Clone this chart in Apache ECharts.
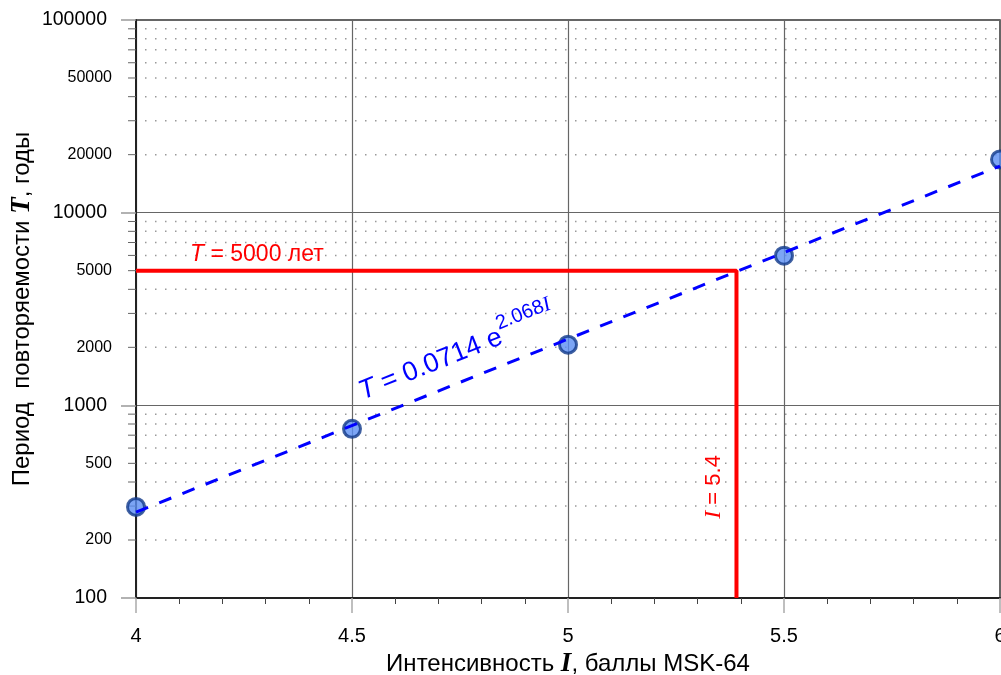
<!DOCTYPE html>
<html>
<head>
<meta charset="utf-8">
<script src="https://cdn.jsdelivr.net/npm/echarts@6/dist/echarts.min.js"></script>
<style>html,body{margin:0;padding:0;background:#fff}#c{width:1001px;height:675px}</style>
</head>
<body>
<div id="c"></div>
<script>
// ---- data ----
const xMin = 4, xMax = 6;
const yMin = 100, yMax = 100000;
const xTickLabels = [4, 4.5, 5, 5.5, 6];
const yTickLabels = [100, 200, 500, 1000, 2000, 5000, 10000, 20000, 50000, 100000];
const yMajorLabels = [100, 1000, 10000, 100000];
const yMinorLines = [200,300,400,500,600,700,800,900,2000,3000,4000,5000,6000,7000,8000,9000,20000,30000,40000,50000,60000,70000,80000,90000];
const pointsI = [4, 4.5, 5, 5.5, 6];
const pointsT = [297, 755, 2065, 5980, 18900];
const fitI = [4, 6];
const fitT = [279, 17460];
const targetT = 5000;
const targetI = 5.39;
const eqAnchor = [4.53, 1000];
const tLabelAnchor = [4.125, 6050];
const iLabelAnchor = [5.338, 377];

const SANS = '"Liberation Sans", Arial, sans-serif';
const SERIF = '"Liberation Serif", "Times New Roman", serif';

const chart = echarts.init(document.getElementById('c'));

const option = {
  animation: false,
  grid: { left: 136, right: 1, top: 20, bottom: 77, show: true, borderColor: '#333', borderWidth: 1.5,
    containLabel: false, outerBoundsMode: 'none' },
  xAxis: {
    type: 'value', min: xMin, max: xMax, interval: 0.5,
    axisLine: { show: true, lineStyle: { color: '#222', width: 2 } },
    axisTick: { show: true, length: 15, lineStyle: { color: '#aaa', width: 1.5 } },
    minorTick: { show: true, splitNumber: 5, length: 6, lineStyle: { color: '#444', width: 1 } },
    axisLabel: { fontFamily: SANS, fontSize: 20, color: '#000', margin: 28,
      formatter: v => (xTickLabels.indexOf(v) >= 0 ? String(v) : '') },
    splitLine: { show: true, lineStyle: { color: '#666', width: 1.2 } },
    name: 'Интенсивность {b|I}, баллы MSK-64',
    nameLocation: 'middle', nameGap: 51,
    nameTextStyle: { fontFamily: SANS, fontSize: 24, color: '#000',
      rich: { b: { fontFamily: SERIF, fontStyle: 'italic', fontWeight: 'bold', fontSize: 27, color: '#000' } } }
  },
  yAxis: {
    type: 'log', logBase: 10, min: yMin, max: yMax,
    axisLine: { show: true, lineStyle: { color: '#222', width: 2 } },
    axisTick: { show: true, length: 15, lineStyle: { color: '#999', width: 1.5 } },
    axisLabel: { show: false },
    splitLine: { show: true, lineStyle: { color: '#666', width: 1.2 } },
    name: 'Период  повторяемости {b|T}, годы',
    nameLocation: 'middle', nameGap: 100, nameRotate: 90,
    nameTextStyle: { fontFamily: SANS, fontSize: 24, color: '#000',
      rich: { b: { fontFamily: SERIF, fontStyle: 'italic', fontWeight: 'bold', fontSize: 27, color: '#000' } } }
  },
  series: [
    { // minor dotted grid + minor ticks
      type: 'custom', clip: false, silent: true, z: 1,
      data: yMinorLines.map(v => [xMin, v]),
      encode: { x: 0, y: 1 },
      renderItem: function (params, api) {
        const v = api.value(1);
        const a = api.coord([xMin, v]);
        const b = api.coord([xMax, v]);
        return { type: 'group', children: [
          { type: 'line', shape: { x1: a[0] + 9, y1: a[1], x2: b[0], y2: b[1] },
            style: { stroke: '#999', lineWidth: 1.5, lineDash: [1.5, 8.5] } },
          { type: 'line', shape: { x1: a[0] - 8, y1: a[1], x2: a[0], y2: a[1] },
            style: { stroke: '#666', lineWidth: 1 } }
        ] };
      }
    },
    { // y tick labels
      type: 'custom', clip: false, silent: true, z: 2,
      data: yTickLabels.map(v => [xMin, v]),
      encode: { x: 0, y: 1 },
      renderItem: function (params, api) {
        const v = api.value(1);
        const p = api.coord([xMin, v]);
        const major = yMajorLabels.indexOf(v) >= 0;
        return { type: 'text', x: p[0] - (major ? 29 : 24), y: p[1],
          style: { text: String(v), fill: '#000', align: 'right', verticalAlign: 'middle',
            font: (major ? 19.5 : 16) + 'px ' + SANS } };
      }
    },
    { // red target lines
      type: 'line', z: 3, symbol: 'none', silent: true,
      data: [[xMin, targetT], [targetI, targetT], [targetI, yMin]],
      lineStyle: { color: '#ff0000', width: 4 }
    },
    { // observed points
      type: 'scatter', z: 4, clip: false, symbol: 'circle', symbolSize: 17,
      data: pointsI.map((x, i) => [x, pointsT[i]]),
      itemStyle: { color: '#5b8ef2', borderColor: '#123a8a', borderWidth: 3 }
    },
    { // fitted trend
      type: 'line', z: 5, symbol: 'none', silent: true,
      data: fitI.map((x, i) => [x, fitT[i]]),
      lineStyle: { color: '#0000ff', width: 3, type: [13, 12] }
    },
    { // annotations
      type: 'custom', clip: false, silent: true, z: 6,
      data: [[0]],
      renderItem: function (params, api) {
        const f0 = api.coord([fitI[0], fitT[0]]);
        const f1 = api.coord([fitI[1], fitT[1]]);
        const ang = Math.atan2(f0[1] - f1[1], f1[0] - f0[0]);
        const ea = api.coord(eqAnchor);
        const ta = api.coord(tLabelAnchor);
        const ia = api.coord(iLabelAnchor);
        return { type: 'group', children: [
          { type: 'text', x: ea[0], y: ea[1], rotation: ang,
            style: {
              text: '{t|T}{m| = 0.0714 e}{s|2.068}{si|I}',
              align: 'left', verticalAlign: 'bottom',
              rich: {
                t: { font: 'italic 27px ' + SANS, fill: '#0000ff', lineHeight: 28, verticalAlign: 'bottom' },
                m: { font: '27px ' + SANS, fill: '#0000ff', lineHeight: 28, verticalAlign: 'bottom' },
                s: { font: '20px ' + SANS, fill: '#0000ff', lineHeight: 36, verticalAlign: 'top' },
                si: { font: 'italic 21px ' + SERIF, fill: '#0000ff', lineHeight: 36, verticalAlign: 'top' }
              }
            } },
          { type: 'text', x: ta[0], y: ta[1],
            style: { text: '{t|T}{m| = 5000 лет}', align: 'left', verticalAlign: 'middle',
              rich: {
                t: { font: 'italic 23px ' + SANS, fill: '#ff0000' },
                m: { font: '23px ' + SANS, fill: '#ff0000' }
              } } },
          { type: 'text', x: ia[0], y: ia[1], rotation: Math.PI / 2,
            style: { text: '{t|I}{m| = 5.4}', align: 'center', verticalAlign: 'middle',
              rich: {
                t: { font: 'italic 24px ' + SERIF, fill: '#ff0000' },
                m: { font: '22px ' + SANS, fill: '#ff0000' }
              } } }
        ] };
      }
    }
  ]
};
chart.setOption(option);
</script>
</body>
</html>
